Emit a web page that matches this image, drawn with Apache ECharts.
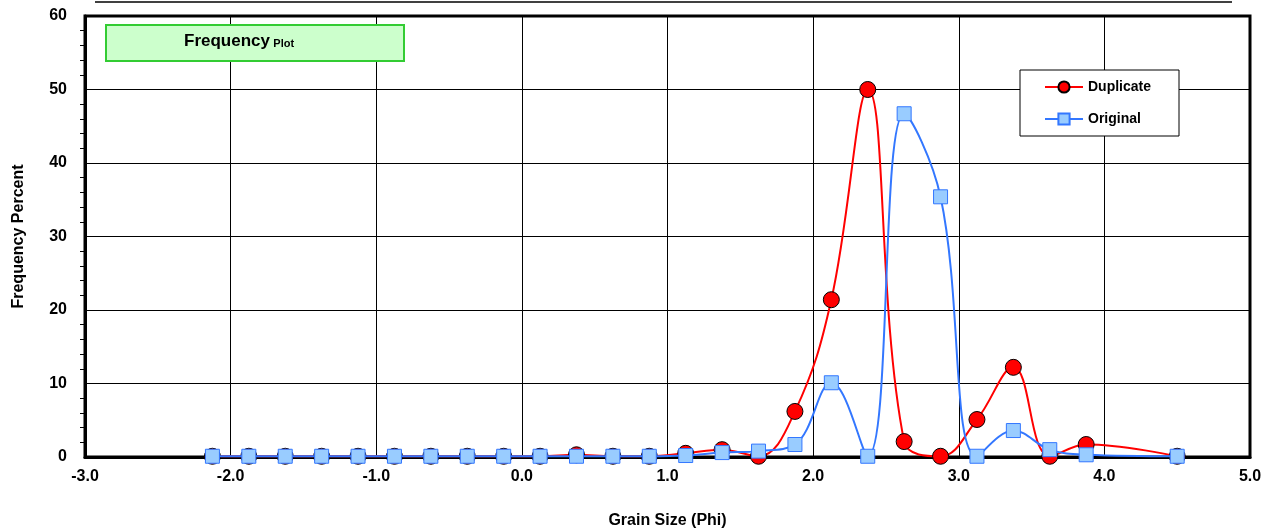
<!DOCTYPE html>
<html><head><meta charset="utf-8">
<script src="https://cdn.jsdelivr.net/npm/echarts@6/dist/echarts.min.js"></script>
<style>html,body{margin:0;padding:0;background:#fff}#c{width:1273px;height:531px}</style>
</head><body><div id="c"></div>
<script>
const phi = [-2.125,-1.875,-1.625,-1.375,-1.125,-0.875,-0.625,-0.375,-0.125,0.125,0.375,0.625,0.875,1.125,1.375,1.625,1.875,2.125,2.375,2.625,2.875,3.125,3.375,3.625,3.875,4.5];
const duplicate = [0.1,0.1,0.1,0.1,0.1,0.1,0.1,0.1,0.1,0.1,0.3,0.1,0.1,0.5,1.0,0.1,6.2,21.4,50.0,2.1,0.1,5.1,12.2,0.1,1.7,0.1];
const original = [0.1,0.1,0.1,0.1,0.1,0.1,0.1,0.1,0.1,0.1,0.1,0.1,0.1,0.2,0.6,0.8,1.7,10.1,0.1,46.7,35.4,0.1,3.6,1.0,0.3,0.1];
const pair = a => phi.map((x,i)=>[x,a[i]]);
const chart = echarts.init(document.getElementById('c'));
const lbl = {fontFamily:'Liberation Sans, Arial',fontWeight:'bold',fontSize:16,color:'#000'};
chart.setOption({
  animation:false,
  grid:{left:85,right:23,top:16,bottom:74,outerBoundsMode:'none',containLabel:false,show:true,borderColor:'#000',borderWidth:3},
  xAxis:{type:'value',min:-3,max:5,interval:1,
    axisLabel:Object.assign({formatter:v=>v.toFixed(1),margin:12},lbl),
    axisLine:{onZero:false,lineStyle:{color:'#000',width:3}},axisTick:{show:false},
    splitLine:{lineStyle:{color:'#000',width:1}},
    name:'Grain Size (Phi)',nameLocation:'middle',nameGap:56,nameTextStyle:lbl},
  yAxis:{type:'value',min:0,max:60,interval:10,
    axisLabel:Object.assign({margin:18},lbl),
    axisLine:{onZero:false,lineStyle:{color:'#000',width:3}},
    axisTick:{show:false},
    minorTick:{show:true,splitNumber:5,length:5,inside:false,lineStyle:{color:'#000'}},
    splitLine:{lineStyle:{color:'#000',width:1}},
    name:'Frequency Percent',nameLocation:'middle',nameGap:58,nameTextStyle:lbl},
  legend:{orient:'vertical',left:1020,top:70,padding:[10,28,10,24],itemGap:18,
    backgroundColor:'#fff',borderColor:'#000',borderWidth:1,itemWidth:38,
    textStyle:{fontFamily:'Liberation Sans, Arial',fontWeight:'bold',fontSize:14,color:'#000'},
    data:['Duplicate','Original']},
  graphic:[
    {type:'line',shape:{x1:95,y1:2,x2:1232,y2:2},style:{stroke:'#000',lineWidth:1.5}},
    {type:'rect',shape:{x:106,y:25,width:298,height:36},style:{fill:'#ccffcc',stroke:'#33cc33',lineWidth:2},z:10},
    {type:'text',left:184,top:33,z:11,style:{rich:{a:{fontFamily:'Liberation Sans, Arial',fontWeight:'bold',fontSize:17,fill:'#000'},b:{fontFamily:'Liberation Sans, Arial',fontWeight:'bold',fontSize:11,fill:'#000',padding:[5,0,0,0]}},text:'{a|Frequency} {b|Plot}'}}
  ],
  series:[
    {name:'Duplicate',type:'line',smooth:0.4,data:pair(duplicate),symbol:'circle',symbolSize:16,
      lineStyle:{color:'#ff0000',width:2},itemStyle:{color:'#ff0000',borderColor:'#000',borderWidth:1},z:3},
    {name:'Original',type:'line',smooth:0.4,data:pair(original),symbol:'rect',symbolSize:14,
      lineStyle:{color:'#3377ff',width:2},itemStyle:{color:'#99ccff',borderColor:'#3377ff',borderWidth:1},z:4}
  ]
});
</script></body></html>
